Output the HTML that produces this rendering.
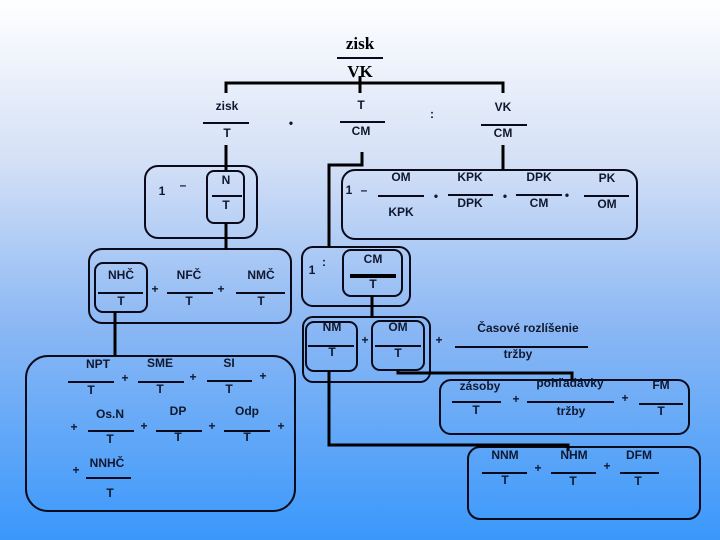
<!DOCTYPE html>
<html><head><meta charset="utf-8"><style>
html,body{margin:0;padding:0;width:720px;height:540px;overflow:hidden}
svg{display:block}
text{font-family:"Liberation Sans",sans-serif;font-weight:bold;font-size:12px;fill:#101830;text-anchor:middle}
.s{font-family:"Liberation Serif",serif;font-size:17px;fill:#000}
</style></head><body>
<svg width="720" height="540" viewBox="0 0 720 540" xmlns="http://www.w3.org/2000/svg">
<defs><linearGradient id="g" x1="0" y1="0" x2="0" y2="1">
<stop offset="0" stop-color="#ffffff"/><stop offset="0.3" stop-color="#d4e0f6"/><stop offset="0.6" stop-color="#8cb8f4"/><stop offset="1" stop-color="#3a98fb"/></linearGradient></defs>
<rect width="720" height="540" fill="url(#g)"/>
<g fill="none" stroke="#0a0a1a" stroke-width="2">
<!-- boxes -->
<rect x="145" y="166" width="112" height="72" rx="13"/>
<rect x="207" y="171" width="37" height="52" rx="7"/>
<rect x="89" y="249" width="202" height="74" rx="13"/>
<rect x="95" y="263" width="52" height="49" rx="8"/>
<rect x="302" y="247" width="108" height="59" rx="11"/>
<rect x="343" y="250" width="59" height="46" rx="8"/>
<rect x="342" y="170" width="295" height="69" rx="13"/>
<rect x="303" y="317" width="127" height="65" rx="10"/>
<rect x="306" y="322" width="51" height="49" rx="8"/>
<rect x="372" y="321" width="52" height="49" rx="8"/>
<rect x="440" y="380" width="249" height="54" rx="11"/>
<rect x="468" y="447" width="232" height="72" rx="12"/>
<rect x="26" y="356" width="269" height="155" rx="22"/>
<!-- fraction lines -->
<path d="M337 58H383M203 123H249M340 122H385M481 125H527M212 196H242M98 293H143M167 293H213M236 293H285M378 196H424M448 195H493M516 195H562M584 196H629M308 346H354M375 346H421M455 347H588M452 402H501M527 402H614M639 404H683M482 473H527M551 473H596M620 473H659M68 382H114M138 382H184M207 381H252M88 431H134M156 431H202M224 431H270M86 478H131"/>
</g>
<g fill="none" stroke="#000" stroke-width="3">
<path d="M226 93V83H503V93M360 76V93M226 145V170M362 152V165H329V247M503 145V170M226 223V250M115 312V356M372 296V318M398 371V373H572V380M329 371V445H568V451"/>
<path d="M350 276H396" stroke-width="4"/>
</g>
<text class="s" x="360" y="49">zisk</text>
<text class="s" x="360" y="77">VK</text>
<text x="227" y="110">zisk</text><text x="227" y="137">T</text>
<text x="291" y="127" font-size="14">•</text>
<text x="361" y="109">T</text><text x="361" y="135">CM</text>
<text x="432" y="118">:</text>
<text x="503" y="111">VK</text><text x="503" y="137">CM</text>
<text x="162" y="195">1</text><text x="183" y="189">–</text>
<text x="226" y="184">N</text><text x="226" y="209">T</text>
<text x="121" y="279">NHČ</text><text x="121" y="305">T</text>
<text x="155" y="293" font-size="10">+</text>
<text x="189" y="279">NFČ</text><text x="189" y="305">T</text>
<text x="221" y="293" font-size="10">+</text>
<text x="261" y="279">NMČ</text><text x="261" y="305">T</text>
<text x="312" y="274">1</text><text x="324" y="266">:</text>
<text x="373" y="263">CM</text><text x="373" y="288">T</text>
<text x="349" y="194">1</text><text x="364" y="194">–</text>
<text x="401" y="181">OM</text><text x="401" y="216">KPK</text>
<text x="436" y="200">•</text>
<text x="470" y="181">KPK</text><text x="470" y="207">DPK</text>
<text x="505" y="200">•</text>
<text x="539" y="181">DPK</text><text x="539" y="207">CM</text>
<text x="567" y="199" font-size="16">•</text>
<text x="607" y="182">PK</text><text x="607" y="208">OM</text>
<text x="332" y="331">NM</text><text x="332" y="356">T</text>
<text x="365" y="344" font-size="10">+</text>
<text x="398" y="331">OM</text><text x="398" y="357">T</text>
<text x="439" y="344" font-size="10">+</text>
<text x="528" y="332">Časové rozlíšenie</text><text x="518" y="358">tržby</text>
<text x="480" y="390">zásoby</text><text x="476" y="414">T</text>
<text x="516" y="403" font-size="10">+</text>
<text x="570" y="387">pohľadávky</text><text x="571" y="415">tržby</text>
<text x="625" y="402" font-size="10">+</text>
<text x="661" y="389">FM</text><text x="661" y="415">T</text>
<text x="505" y="459">NNM</text><text x="505" y="484">T</text>
<text x="538" y="472" font-size="10">+</text>
<text x="574" y="459">NHM</text><text x="573" y="485">T</text>
<text x="607" y="470" font-size="10">+</text>
<text x="639" y="459">DFM</text><text x="638" y="485">T</text>
<text x="98" y="368">NPT</text><text x="91" y="394">T</text>
<text x="125" y="382" font-size="10">+</text>
<text x="160" y="367">SME</text><text x="160" y="393">T</text>
<text x="193" y="381" font-size="10">+</text>
<text x="229" y="367">SI</text><text x="229" y="393">T</text>
<text x="263" y="380" font-size="10">+</text>
<text x="74" y="431" font-size="10">+</text>
<text x="110" y="418">Os.N</text><text x="110" y="443">T</text>
<text x="144" y="430" font-size="10">+</text>
<text x="178" y="415">DP</text><text x="178" y="441">T</text>
<text x="212" y="430" font-size="10">+</text>
<text x="247" y="415">Odp</text><text x="247" y="441">T</text>
<text x="281" y="430" font-size="10">+</text>
<text x="76" y="474" font-size="10">+</text>
<text x="107" y="467">NNHČ</text><text x="110" y="497">T</text>
</svg>
</body></html>
